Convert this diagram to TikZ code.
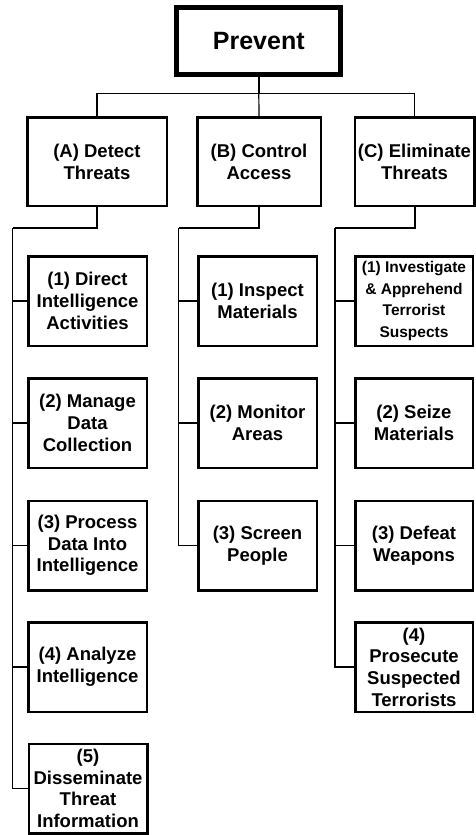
\documentclass[tikz,border=0pt]{standalone}
\usepackage{fontspec}
\setmainfont{Liberation Sans}
\begin{document}
\begin{tikzpicture}[x=1pt,y=-1pt,
  top/.style={draw, line width=5pt, minimum width=164pt, minimum height=67pt, inner sep=0pt,
    font=\fontsize{25}{30}\selectfont\bfseries},
  lone/.style={draw, line width=2.5pt, minimum height=88.5pt, inner sep=0pt, align=center,
    font=\fontsize{18.5}{22}\selectfont\bfseries},
  ltwo/.style={draw, line width=2.5pt, minimum width=118.5pt, minimum height=89.5pt, inner sep=0pt, align=center,
    font=\fontsize{18.5}{21.7}\selectfont\bfseries},
  small/.style={font=\fontsize{15.5}{19.5}\selectfont\bfseries},
  stem/.style={line width=2.5pt},
  bar/.style={line width=2pt},
  wire/.style={line width=1.2pt}]
\useasboundingbox (0,0) rectangle (475,835);
\fill[white] (0,0) rectangle (475,835);
% top
\node[top] (P) at (258.8,41) {Prevent};
\node[lone, minimum width=139.5pt] (A) at (97,161.5) {(A) Detect\\Threats};
\node[lone, minimum width=123.5pt] (B) at (259,161.5) {(B) Control\\Access};
\node[lone, minimum width=119.5pt] (C) at (414.5,161.5) {(C) Eliminate\\Threats};
% column A
\node[ltwo] (A1) at (87.5,301) {(1) Direct\\Intelligence\\Activities};
\node[ltwo] (A2) at (87.5,423) {(2) Manage\\Data\\Collection};
\node[ltwo] (A3) at (87.5,545.5) {(3) Process\\Data Into\\Intelligence};
\node[ltwo] (A4) at (87.5,667) {(4) Analyze\\Intelligence};
\node[ltwo] (A5) at (88,788.5) {(5)\\Disseminate\\Threat\\Information};
% column B
\node[ltwo] (B1) at (257.5,301) {(1) Inspect\\Materials};
\node[ltwo] (B2) at (257.5,423) {(2) Monitor\\Areas};
\node[ltwo] (B3) at (257.5,545.5) {(3) Screen\\People};
% column C
\node[ltwo, minimum width=117.5pt] (C1) at (414,301) {\small\fontsize{15.5}{19.5}\selectfont (1) Investigate\\\fontsize{15.5}{19.5}\selectfont\&~Apprehend\\\fontsize{15.5}{19.5}\selectfont Terrorist\\\fontsize{15.5}{19.5}\selectfont Suspects};
\node[ltwo, minimum width=117.5pt] (C2) at (414,423) {(2) Seize\\Materials};
\node[ltwo, minimum width=117.5pt] (C3) at (414,545.5) {(3) Defeat\\Weapons};
\node[ltwo, minimum width=117.5pt] (C4) at (414,667) {(4)\\Prosecute\\Suspected\\Terrorists};
% top connectors
\coordinate (bus) at (258.8,93.3);
\draw[stem] (P.south) -- (bus);
\draw[wire] (A.north) -- (A.north |- bus) -- (C.north |- bus) -- (C.north);
\draw[wire] (bus) -- (B.north);
% column A connectors
\coordinate (ja) at (97,228);
\coordinate (ra) at (12.5,228);
\draw[bar] (A.south) -- (ja) -- (ra);
\draw[wire] (ra) |- (A5.west);
\foreach \n in {A1,A2,A3,A4} \draw[wire] (\n.west) -- (\n.west -| ra);
% column B connectors
\coordinate (jb) at (259,228);
\coordinate (rb) at (178.5,228);
\draw[bar] (B.south) -- (jb) -- (rb);
\draw[wire] (rb) |- (B3.west);
\foreach \n in {B1,B2} \draw[wire] (\n.west) -- (\n.west -| rb);
% column C connectors
\coordinate (jc) at (414.5,228);
\coordinate (rc) at (335,228);
\draw[bar] (C.south) -- (jc) -- (rc);
\draw[wire] (rc) |- (C4.west);
\foreach \n in {C1,C2,C3} \draw[wire] (\n.west) -- (\n.west -| rc);
\end{tikzpicture}
\end{document}
